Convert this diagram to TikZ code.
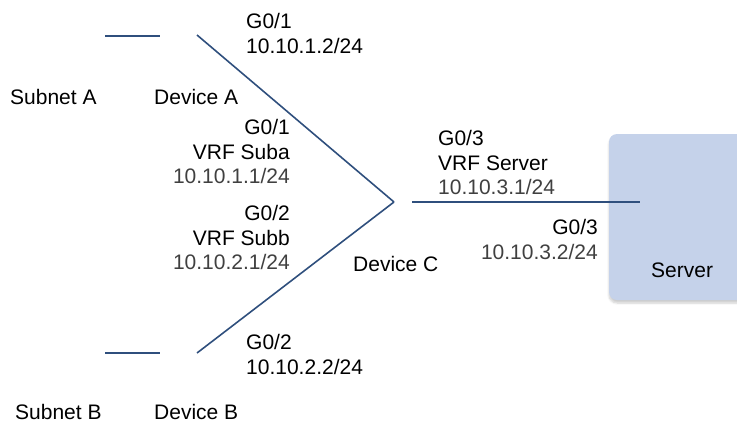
\documentclass[tikz,border=0pt]{standalone}
\usepackage{fontspec}
\setmainfont{Liberation Sans}
\usetikzlibrary{shadows.blur}
\definecolor{linkblue}{RGB}{47,79,125}
\definecolor{txtgray}{RGB}{64,64,64}
\definecolor{boxfill}{RGB}{197,210,234}
\begin{document}
\begin{tikzpicture}[x=1pt,y=-1pt,
  lbl/.style={inner sep=0pt, font=\fontsize{21}{24.5}\selectfont, text=black},
  lblL/.style={lbl, align=left, anchor=north west},
  lblR/.style={lbl, align=right, anchor=north east},
  link/.style={draw=linkblue, line width=1.6pt},
  srvbox/.style={fill=boxfill, draw=none, rounded corners=8pt,
    blur shadow={shadow xshift=0pt, shadow yshift=-3pt, shadow blur steps=6, shadow opacity=20}}]
\useasboundingbox (0,0) rectangle (737,424);
% server area
\path[srvbox] (609,134) rectangle (770,300);
\node[lbl, anchor=west] (server) at (651,270) {Server};
% connector end points
\coordinate (sa1) at (105,36);
\coordinate (sa2) at (160,36);
\coordinate (sb1) at (105,353);
\coordinate (sb2) at (160,353);
\coordinate (devA) at (197,35);
\coordinate (devB) at (197,353);
\coordinate (devC) at (394,202);
\coordinate (devCr) at (412,202);
\coordinate (srv) at (640,202);
% links
\draw[link] (sa1) -- (sa2);
\draw[link] (sb1) -- (sb2);
\draw[link] (devA) -- (devC);
\draw[link] (devB) -- (devC);
\draw[link] (devCr) -- (srv);
% labels
\node[lbl, anchor=west] (subA) at (10,97) {Subnet A};
\node[lbl, anchor=west] (devAl) at (154,97) {Device A};
\node[lbl, anchor=west] (subB) at (15,412) {Subnet B};
\node[lbl, anchor=west] (devBl) at (154,412) {Device B};
\node[lbl, anchor=west] (devCl) at (353,264) {Device C};
\node[lblL] (ifA) at (246,13.5) {G0/1\\10.10.1.2/24};
\node[lblR] (ifCa) at (290,119.5) {G0/1\\VRF Suba\\\textcolor{txtgray}{10.10.1.1/24}};
\node[lblR] (ifCb) at (290,205.5) {G0/2\\VRF Subb\\\textcolor{txtgray}{10.10.2.1/24}};
\node[lblL] (ifB) at (246,334.5) {G0/2\\10.10.2.2/24};
\node[lblL] (ifCs) at (438,130.5) {G0/3\\VRF Server\\\textcolor{txtgray}{10.10.3.1/24}};
\node[lblR] (ifS) at (598,219.5) {G0/3\\\textcolor{txtgray}{10.10.3.2/24}};
\end{tikzpicture}
\end{document}
